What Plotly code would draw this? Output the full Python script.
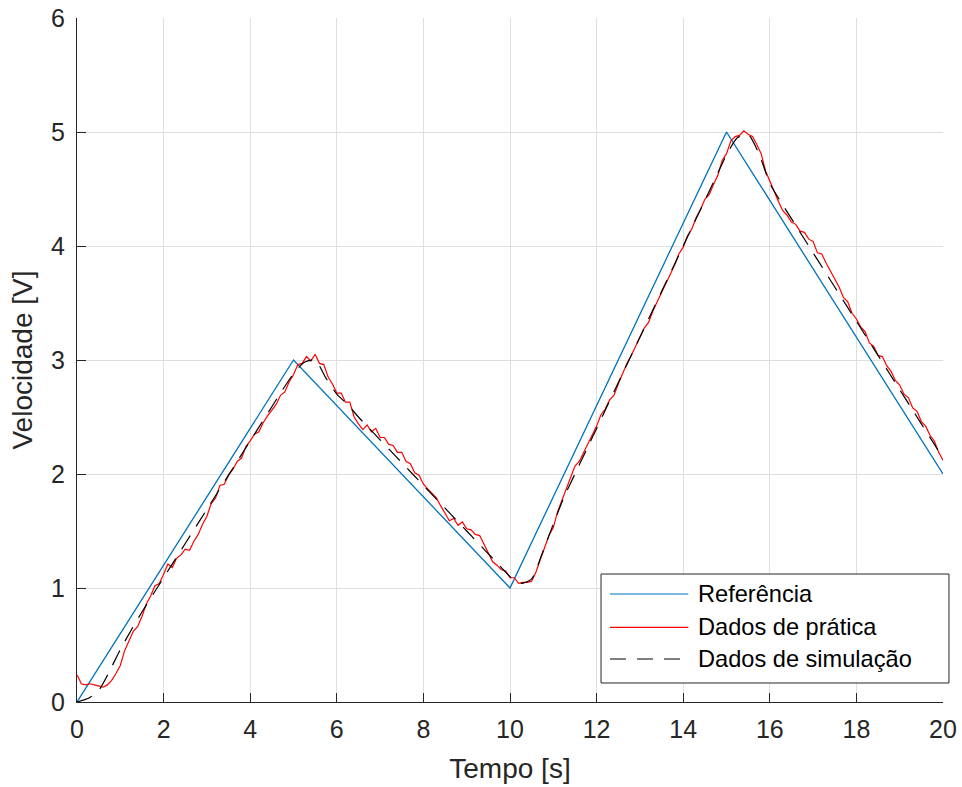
import plotly.graph_objects as go

# Reference setpoint (triangular profile)
t_ref = [0, 5, 10, 15, 20]
v_ref = [0, 3, 1, 5, 2]

# Measured speed from the bench test, sampled every 0.1 s
t_prat = [round(i * 0.1, 1) for i in range(201)]
v_prat = [
    0.24, 0.16, 0.15, 0.16, 0.15, 0.14, 0.13, 0.15, 0.19, 0.25,
    0.32, 0.45, 0.53, 0.62, 0.66, 0.75, 0.86, 0.93, 1.02, 1.04,
    1.12, 1.21, 1.18, 1.26, 1.29, 1.34, 1.33, 1.41, 1.47, 1.56,
    1.63, 1.74, 1.79, 1.90, 1.91, 1.99, 2.04, 2.11, 2.14, 2.24,
    2.29, 2.35, 2.37, 2.45, 2.51, 2.56, 2.61, 2.69, 2.72, 2.81,
    2.87, 2.96, 2.97, 3.03, 2.99, 3.05, 2.97, 2.96, 2.85, 2.79,
    2.71, 2.71, 2.63, 2.63, 2.50, 2.44, 2.39, 2.43, 2.37, 2.40,
    2.32, 2.32, 2.26, 2.25, 2.19, 2.19, 2.11, 2.09, 2.01, 1.99,
    1.91, 1.87, 1.83, 1.79, 1.72, 1.66, 1.59, 1.61, 1.55, 1.58,
    1.52, 1.51, 1.47, 1.46, 1.38, 1.31, 1.23, 1.20, 1.16, 1.15,
    1.09, 1.09, 1.04, 1.05, 1.05, 1.06, 1.14, 1.25, 1.35, 1.46,
    1.53, 1.67, 1.77, 1.87, 1.96, 2.07, 2.11, 2.19, 2.26, 2.35,
    2.42, 2.52, 2.57, 2.65, 2.69, 2.79, 2.88, 2.97, 3.04, 3.12,
    3.19, 3.28, 3.33, 3.43, 3.51, 3.59, 3.67, 3.75, 3.83, 3.93,
    3.99, 4.09, 4.15, 4.25, 4.32, 4.41, 4.45, 4.54, 4.62, 4.75,
    4.81, 4.92, 4.96, 4.97, 5.01, 4.98, 4.96, 4.89, 4.81, 4.66,
    4.57, 4.47, 4.39, 4.31, 4.27, 4.21, 4.19, 4.13, 4.12, 4.06,
    4.04, 3.94, 3.93, 3.85, 3.78, 3.71, 3.64, 3.55, 3.51, 3.41,
    3.36, 3.29, 3.25, 3.15, 3.12, 3.04, 3.03, 2.95, 2.90, 2.82,
    2.78, 2.70, 2.67, 2.58, 2.55, 2.46, 2.42, 2.34, 2.29, 2.19,
    2.12,
]

# Simulated model response, sampled every 0.25 s
t_sim = [i * 0.25 for i in range(81)]
v_sim = [
    0.00, 0.03, 0.10, 0.27, 0.46, 0.63, 0.79, 0.94,
    1.09, 1.24, 1.39, 1.54, 1.69, 1.84, 1.99, 2.14,
    2.29, 2.44, 2.59, 2.74, 2.88, 2.98, 3.00, 2.84,
    2.70, 2.61, 2.50, 2.40, 2.30, 2.20, 2.10, 2.00,
    1.90, 1.80, 1.70, 1.60, 1.50, 1.40, 1.30, 1.20,
    1.10, 1.04, 1.08, 1.31, 1.56, 1.80, 2.00, 2.20,
    2.40, 2.60, 2.80, 3.00, 3.20, 3.40, 3.60, 3.80,
    4.00, 4.20, 4.40, 4.60, 4.80, 4.95, 4.98, 4.81,
    4.55, 4.39, 4.24, 4.09, 3.94, 3.79, 3.64, 3.49,
    3.34, 3.19, 3.04, 2.89, 2.74, 2.59, 2.44, 2.29,
    2.14,
]

x_ticks = list(range(0, 21, 2))
y_ticks = list(range(0, 7))

names = ["Referência", "Dados de prática", "Dados de simulação"]
colors = ["#0072bd", "#ff0000", "#000000"]
dashes = ["solid", "solid", "16px,11px"]

FONT = "Liberation Sans, Arial, sans-serif"
INK = "#262626"

fig = go.Figure()
fig.add_trace(go.Scatter(x=t_ref, y=v_ref, mode="lines", name=names[0],
                         line=dict(color=colors[0], width=1.3), showlegend=False))
fig.add_trace(go.Scatter(x=t_prat, y=v_prat, mode="lines", name=names[1],
                         line=dict(color=colors[1], width=1.2), showlegend=False))
fig.add_trace(go.Scatter(x=t_sim, y=v_sim, mode="lines", name=names[2],
                         line=dict(color=colors[2], width=1.2, dash=dashes[2],
                                   shape="spline", smoothing=0.6),
                         showlegend=False))

# Legend box drawn in paper coordinates
lx0, lx1, ly0, ly1 = 0.6051, 1.0069, 0.0278, 0.1871
fig.add_shape(type="rect", xref="paper", yref="paper", x0=lx0, x1=lx1, y0=ly0, y1=ly1,
              line=dict(color=INK, width=1), fillcolor="white", layer="above")
row_y = [0.1579, 0.1092, 0.0629]
for name, col, dash, ry in zip(names, colors, dashes, row_y):
    fig.add_shape(type="line", xref="paper", yref="paper", x0=0.6155, x1=0.7059,
                  y0=ry, y1=ry, line=dict(color=col, width=1.2, dash=dash), layer="above")
    fig.add_annotation(xref="paper", yref="paper", x=0.7148, y=ry, text=name,
                       showarrow=False, xanchor="left", yanchor="middle",
                       font=dict(family=FONT, size=23.6, color="#000000"))

axis_common = dict(
    showgrid=True, gridcolor="#dfdfdf", gridwidth=1,
    zeroline=False, showline=True, linecolor=INK, linewidth=1,
    ticks="inside", ticklen=9, tickwidth=1, tickcolor=INK,
    tickfont=dict(family=FONT, size=25, color=INK),
    mirror=False, automargin=False,
)

fig.update_layout(
    width=962, height=787,
    margin=dict(l=77, r=19, t=18, b=85),
    paper_bgcolor="white", plot_bgcolor="white",
    xaxis=dict(range=[0, 20], tickvals=x_ticks,
               title=dict(text="Tempo [s]", font=dict(family=FONT, size=28, color=INK),
                          standoff=16),
               ticklabelstandoff=5, **axis_common),
    yaxis=dict(range=[0, 6], tickvals=y_ticks,
               title=dict(text="Velocidade [V]", font=dict(family=FONT, size=28, color=INK),
                          standoff=10),
               ticklabelstandoff=6, **axis_common),
)

fig.write_html("out.html")
